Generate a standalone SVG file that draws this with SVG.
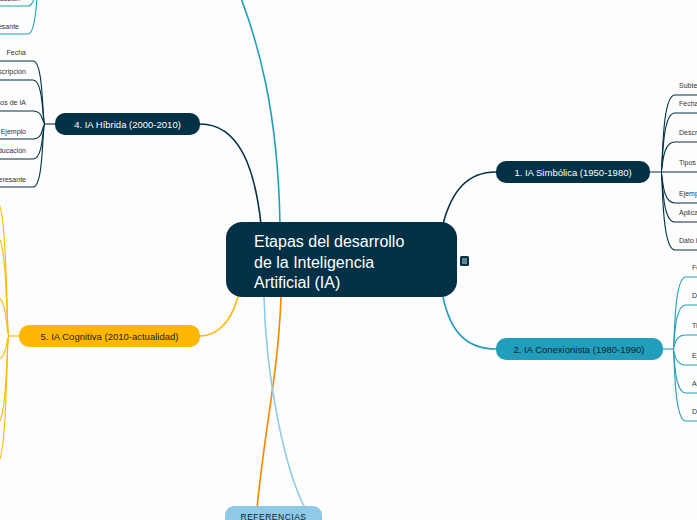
<svg xmlns="http://www.w3.org/2000/svg" width="697" height="520" viewBox="0 0 697 520">
<style>
.t{font-family:"Liberation Sans",Arial,sans-serif}
.c{fill:none;stroke-width:1.6}
.k{fill:none;stroke-width:1.1}
.lab{font-size:7px;fill:#333}
.nl{font-size:9.5px;text-anchor:middle}
</style>
<rect width="697" height="520" fill="#fdfdfd"/>
<g id="connectors">
  <path class="c" stroke="#219ebc" d="M280,224 C278,120 262,40 225,-40"/>
  <path class="c" stroke="#023047" d="M261,224 C255,170 240,124 200,124"/>
  <path class="c" stroke="#ffb703" d="M238,297 C230,325 215,336 200,336"/>
  <path class="c" stroke="#023047" d="M443,224 C452,190 468,172 496,172"/>
  <path class="c" stroke="#219ebc" d="M443,297 C450,330 465,349 496,349"/>
  <path class="c" stroke="#fb8500" d="M281,297 C278,380 262,440 255,530"/>
  <path class="c" stroke="#8ecae6" d="M264,297 C266,380 285,470 305,508"/>
  <g id="c1" stroke="#023047" class="k">
    <path d="M650,172 L700,172"/>
    <path d="M661,172 C663,172 661,95 675,95 L700,95"/>
    <path d="M661,172 C663,172 661,113 675,113 L700,113"/>
    <path d="M661,172 C663,172 661,142 675,142 L700,142"/>
    <path d="M661,172 C663,172 661,203 675,203 L700,203"/>
    <path d="M661,172 C663,172 661,222 675,222 L700,222"/>
    <path d="M661,172 C663,172 661,250 675,250 L700,250"/>
  </g>
  <g id="c2" stroke="#219ebc" class="k">
    <path d="M663,349 L673,349"/>
    <path d="M673,349 C675,349 673,277 686,277 L700,277"/>
    <path d="M673,349 C675,349 673,305 686,305 L700,305"/>
    <path d="M673,349 C675,349 673,335 686,335 L700,335"/>
    <path d="M673,349 C675,349 673,365 686,365 L700,365"/>
    <path d="M673,349 C675,349 673,393 686,393 L700,393"/>
    <path d="M673,349 C675,349 673,421 686,421 L700,421"/>
  </g>
  <g id="c3" stroke="#219ebc" class="k">
    <path d="M40,-40 C37,-40 39,6 28,6 L-5,6"/>
    <path d="M40,-40 C37,-40 39,34 28,34 L-5,34"/>
  </g>
  <g id="c4" stroke="#023047" class="k">
    <path d="M55,124 L45,124"/>
    <path d="M45,124 C42,124 44,61 33,61 L-5,61"/>
    <path d="M45,124 C42,124 44,80 33,80 L-5,80"/>
    <path d="M45,124 C42,124 44,111 33,111 L-5,111"/>
    <path d="M45,124 C42,124 44,139 33,139 L-5,139"/>
    <path d="M45,124 C42,124 44,159 33,159 L-5,159"/>
    <path d="M45,124 C42,124 44,187 33,187 L-5,187"/>
  </g>
  <g id="c5" stroke="#ffb703" class="k">
    <path d="M19,336 L9,336"/>
    <path d="M9,336 C6,336 8,200 -4,200"/>
    <path d="M9,336 C6,336 8,235 -4,235"/>
    <path d="M9,336 C6,336 8,297 -4,297"/>
    <path d="M9,336 C6,336 8,360 -4,360"/>
    <path d="M9,336 C6,336 8,425 -4,425"/>
    <path d="M9,336 C6,336 8,465 -4,465"/>
  </g>
</g>
<g id="central">
  <rect x="226" y="222" width="231" height="75" rx="16" fill="#023047"/>
  <text class="t" font-size="16" fill="#fff"><tspan x="254" y="247">Etapas del desarrollo</tspan><tspan x="254" y="268">de la Inteligencia</tspan><tspan x="254" y="288">Artificial (IA)</tspan></text>
  <rect x="460" y="256" width="9" height="10" rx="1.5" fill="#023047"/>
  <path d="M462,259 H467 M462,261 H467 M462,263 H467" stroke="#fff" stroke-width="0.8"/>
</g>
<g id="n1">
  <rect x="496" y="161" width="154" height="22" rx="10" fill="#023047"/>
  <text class="t nl" x="573" y="175.5" fill="#fff">1. IA Simbólica (1950-1980)</text>
</g>
<g id="n1-children" class="t lab">
  <text x="679" y="88">Subtema</text>
  <text x="679" y="106">Fecha</text>
  <text x="679" y="135">Descripción</text>
  <text x="679" y="165">Tipos simbólicos</text>
  <text x="679" y="196">Ejemplo</text>
  <text x="679" y="215">Aplicación</text>
  <text x="679" y="243">Dato interesante</text>
</g>
<g id="n2">
  <rect x="496" y="338" width="167" height="22" rx="10" fill="#219ebc"/>
  <text class="t nl" x="579" y="352.5" fill="#0d2433">2. IA Conexionista (1980-1990)</text>
</g>
<g id="n2-children" class="t lab">
  <text x="692" y="270">Fecha</text>
  <text x="692" y="298">Descripción</text>
  <text x="692" y="328">Tipos de redes</text>
  <text x="692" y="358">Ejemplo</text>
  <text x="692" y="386">Aplicación</text>
  <text x="692" y="414">Dato interesante</text>
</g>
<g id="n3-children" class="t lab" text-anchor="end">
  <text x="20" y="1">Aplicación</text>
  <text x="19" y="29">Dato interesante</text>
</g>
<g id="n4">
  <rect x="55" y="113" width="145" height="22" rx="10" fill="#023047"/>
  <text class="t nl" x="127.5" y="127.5" fill="#fff">4. IA Híbrida (2000-2010)</text>
</g>
<g id="n4-children" class="t lab" text-anchor="end">
  <text x="26" y="55">Fecha</text>
  <text x="26" y="74">Descripción</text>
  <text x="26" y="105">Tipos de IA</text>
  <text x="26" y="134">Ejemplo</text>
  <text x="26" y="153">Aplicación en educación</text>
  <text x="26" y="182">Dato interesante</text>
</g>
<g id="n5">
  <rect x="19" y="325" width="181" height="22" rx="10" fill="#ffb703"/>
  <text class="t nl" x="109.5" y="339.5" fill="#1d1d1d">5. IA Cognitiva (2010-actualidad)</text>
</g>
<g id="referencias">
  <rect x="225" y="506" width="97" height="30" rx="9" fill="#8ecae6"/>
  <text class="t" x="273.5" y="519.5" font-size="8.5" text-anchor="middle" fill="#0d2433" letter-spacing="0.5">REFERENCIAS</text>
</g>
</svg>
